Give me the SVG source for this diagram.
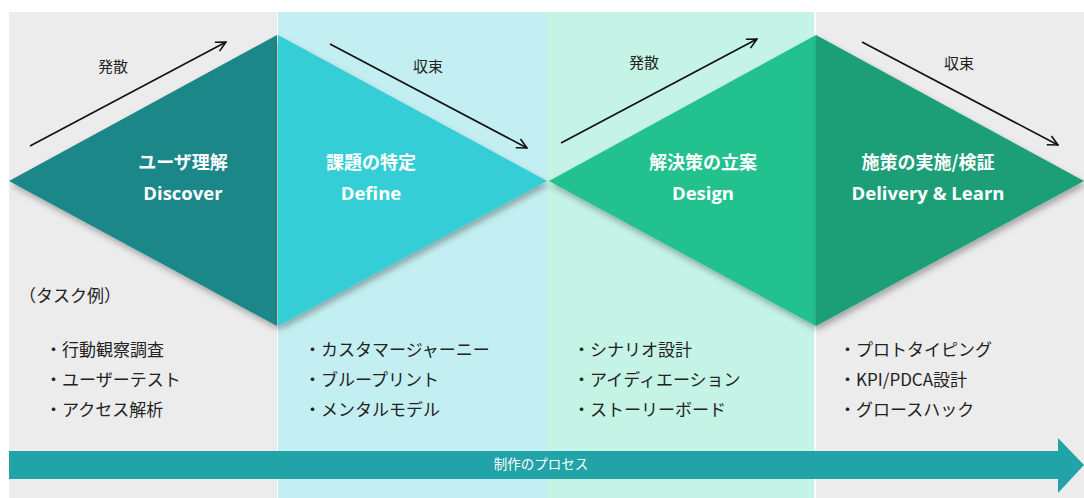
<svg xmlns="http://www.w3.org/2000/svg" width="1084" height="498" viewBox="0 0 1084 498">
<defs>
<style>
.t{font-family:"Noto Sans CJK JP","Noto Sans",sans-serif;fill:#222;}
.lab{font-size:15px;text-anchor:middle;}
.ttl{font-family:"Noto Sans CJK JP","Noto Sans",sans-serif;fill:#fff;font-size:18px;font-weight:bold;text-anchor:middle;}
.en{font-family:"Open Sans","Noto Sans",sans-serif;font-size:18.5px;}
.item{font-size:17px;}
.conn{stroke:#111;stroke-width:1.6;fill:none;marker-end:url(#open);}
</style>
<marker id="open" viewBox="0 0 12 12" refX="11" refY="6" markerWidth="12" markerHeight="12" markerUnits="userSpaceOnUse" orient="auto">
<path d="M1,1 L11,6 L1,11" fill="none" stroke="#111" stroke-width="1.6"/>
</marker>
<filter id="sh" x="-10%" y="-10%" width="130%" height="130%">
<feDropShadow dx="2" dy="4" stdDeviation="3" flood-color="#000" flood-opacity="0.3"/>
</filter>
</defs>
<rect width="1084" height="498" fill="#fff"/>
<g id="background">
<rect x="9" y="12" width="268" height="486" fill="#ececec"/>
<rect x="278" y="12" width="269" height="486" fill="#c4eff2"/>
<rect x="547" y="12" width="267" height="486" fill="#c5f3e6"/>
<rect x="816" y="12" width="268" height="486" fill="#ececec"/>
</g>
<g id="node-discover">
<polygon points="9,181 277,35 277,326" fill="#1c8789" filter="url(#sh)"/>
<text class="ttl" x="183" y="169">ユーザ理解</text>
<text class="ttl en" x="183" y="200">Discover</text>
</g>
<g id="node-design">
<polygon points="549,181 816,35 816,326" fill="#22c18e" filter="url(#sh)"/>
<text class="ttl" x="703" y="169">解決策の立案</text>
<text class="ttl en" x="703" y="200">Design</text>
</g>
<g id="node-define">
<polygon points="278,35 278,326 547,181" fill="#35ced6" filter="url(#sh)"/>
<text class="ttl" x="371" y="169">課題の特定</text>
<text class="ttl en" x="371" y="200">Define</text>
</g>
<g id="node-delivery">
<polygon points="816,35 816,326 1084,181" fill="#1b9e77" filter="url(#sh)"/>
<text class="ttl" x="928" y="169">施策の実施/検証</text>
<text class="ttl en" x="928" y="200">Delivery &amp; Learn</text>
</g>
<g id="connectors">
<line class="conn" x1="30" y1="146" x2="226" y2="42"/>
<line class="conn" x1="330" y1="44" x2="527" y2="148"/>
<line class="conn" x1="561" y1="143" x2="757" y2="39"/>
<line class="conn" x1="862" y1="42" x2="1058" y2="145"/>
</g>
<g id="labels">
<text class="t lab" x="113" y="72">発散</text>
<text class="t lab" x="428" y="72">収束</text>
<text class="t lab" x="644" y="68">発散</text>
<text class="t lab" x="959" y="69">収束</text>
</g>
<g id="tasks">
<text class="t item" x="19" y="302">（タスク例）</text>
<text class="t item" x="45" y="356">・行動観察調査</text>
<text class="t item" x="45" y="386">・ユーザーテスト</text>
<text class="t item" x="45" y="416">・アクセス解析</text>
<text class="t item" x="304" y="356">・カスタマージャーニー</text>
<text class="t item" x="304" y="386">・ブループリント</text>
<text class="t item" x="304" y="416">・メンタルモデル</text>
<text class="t item" x="573" y="356">・シナリオ設計</text>
<text class="t item" x="573" y="386">・アイディエーション</text>
<text class="t item" x="573" y="416">・ストーリーボード</text>
<text class="t item" x="839" y="356">・プロトタイピング</text>
<text class="t item" x="839" y="386">・KPI/PDCA設計</text>
<text class="t item" x="839" y="416">・グロースハック</text>
</g>
<g id="process-arrow">
<polygon points="9,451 1058,451 1058,438 1084,465 1058,493 1058,479 9,479" fill="#22a3a8"/>
<text x="541" y="469" font-family="Noto Sans CJK JP, Noto Sans, sans-serif" font-size="13.5" fill="#fff" text-anchor="middle">制作のプロセス</text>
</g>
</svg>
